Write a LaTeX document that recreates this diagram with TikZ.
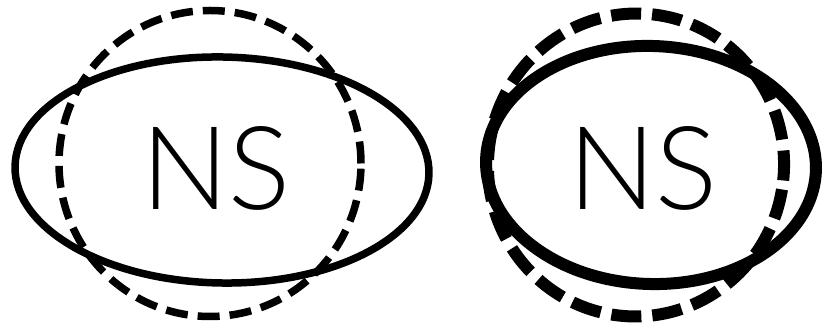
\documentclass[tikz,border=0pt]{standalone}
\usepackage{fontspec}
\newfontfamily\nsfont{Lato Light}
\usepackage{tikz}

\begin{document}
\begin{tikzpicture}[x=1pt, y=1pt,
    solidring/.style={line width=#1},
    dashring/.style={line width=#1, dash pattern=on 22pt off 10pt},
    nslabel/.style={font=\nsfont\fontsize{116}{116}\selectfont, inner sep=0pt}]
    \useasboundingbox (0,0) rectangle (825,328);

    % left pair: wide ellipse over a circle
    \draw[solidring=7.5pt, rotate around={-1:(222,158)}] (222,158) ellipse (207 and 113);
    \draw[dashring=7.5pt] (210,164.5) ellipse (151 and 153);
    \node[nslabel] (nsLeft) at (216,160) {NS};

    % right pair: thicker, nearly round
    \draw[solidring=12pt, rotate around={-2:(651,163)}] (651,163) ellipse (165 and 119);
    \draw[line width=12pt, dash pattern=on 30pt off 11pt, rotate around={-6:(636,163)}] (636,163) ellipse (148 and 151.5);
    \node[nslabel] (nsRight) at (643,160) {NS};
\end{tikzpicture}
\end{document}
